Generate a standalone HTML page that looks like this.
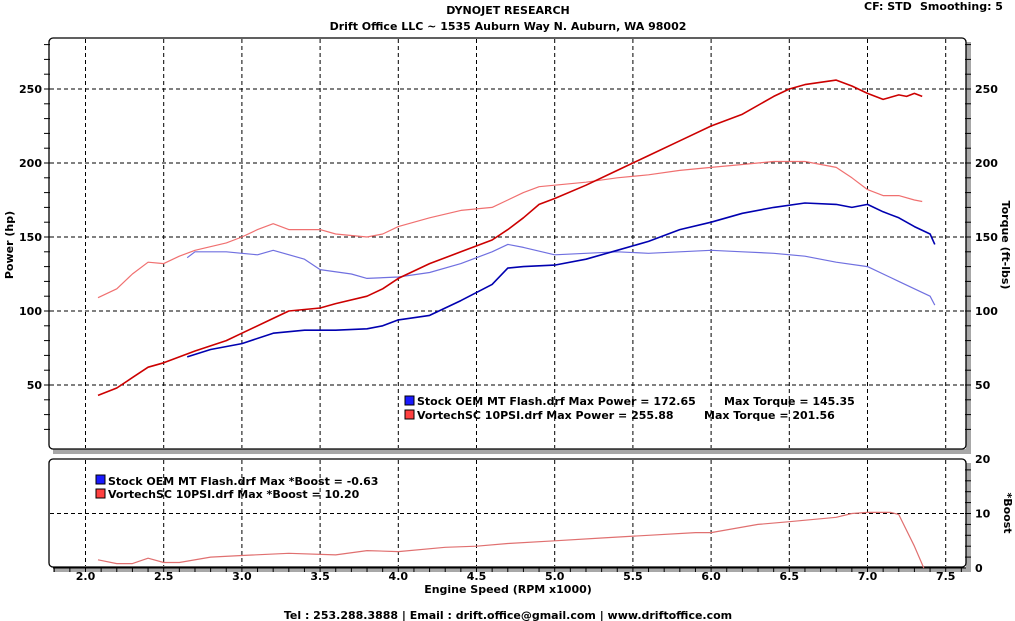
<!DOCTYPE html>
<html><head><meta charset="utf-8"><style>
html,body{margin:0;padding:0;background:#fff;}
svg{display:block;font-family:"DejaVu Sans","Liberation Sans",sans-serif;font-weight:bold;}
</style></head><body>
<svg id="s" width="1015" height="621" viewBox="0 0 1015 621" xmlns="http://www.w3.org/2000/svg">
<rect width="1015" height="621" fill="#fff"/>
<text x="508" y="14" font-size="11" text-anchor="middle">DYNOJET RESEARCH</text>
<text x="508" y="30" font-size="11" text-anchor="middle">Drift Office LLC ~ 1535 Auburn Way N. Auburn, WA 98002</text>
<text x="864" y="10" font-size="11">CF: STD</text><text x="920" y="10" font-size="11">Smoothing: 5</text>
<text x="508" y="619" font-size="11" text-anchor="middle">Tel : 253.288.3888 | Email : drift.office@gmail.com | www.driftoffice.com</text>
<text x="508" y="593" font-size="11" text-anchor="middle">Engine Speed (RPM x1000)</text>
<text transform="translate(13,245) rotate(-90)" font-size="11" text-anchor="middle">Power (hp)</text>
<text transform="translate(1002,245) rotate(90)" font-size="11" text-anchor="middle">Torque (ft-lbs)</text>
<text transform="translate(1004,513) rotate(90)" font-size="11" text-anchor="middle">*Boost</text>
<rect x="53" y="449" width="918" height="5" fill="#a8a8a8"/>
<rect x="966" y="42" width="5" height="412" fill="#a8a8a8"/>
<rect x="53" y="567" width="918" height="5" fill="#a8a8a8"/>
<rect x="966" y="463" width="5" height="109" fill="#a8a8a8"/>
<rect x="49" y="38" width="917" height="411" rx="4" fill="#fff" stroke="#000" stroke-width="1.3"/>
<rect x="49" y="459" width="917" height="108" rx="4" fill="#fff" stroke="#000" stroke-width="1.3"/>
<g id="g"></g>
<g font-size="11">
<rect x="405" y="396" width="9" height="9" fill="#1a1aff" stroke="#000"/>
<text x="417" y="405">Stock OEM MT Flash.drf Max Power = 172.65</text>
<text x="724" y="405">Max Torque = 145.35</text>
<rect x="405" y="410" width="9" height="9" fill="#ff4040" stroke="#000"/>
<text x="417" y="419">VortechSC 10PSI.drf Max Power = 255.88</text>
<text x="704" y="419">Max Torque = 201.56</text>
<rect x="96" y="475" width="9" height="9" fill="#1a1aff" stroke="#000"/>
<text x="108" y="485">Stock OEM MT Flash.drf Max *Boost = -0.63</text>
<rect x="96" y="489" width="9" height="9" fill="#ff4040" stroke="#000"/>
<text x="108" y="498">VortechSC 10PSI.drf Max *Boost = 10.20</text>
</g>
</svg>
<script>
var NS="http://www.w3.org/2000/svg",g=document.getElementById("g");
function el(t,a,txt){var e=document.createElementNS(NS,t);for(var k in a)e.setAttribute(k,a[k]);if(txt!==undefined)e.textContent=txt;g.appendChild(e);return e;}
function X(r){return 85.5+(r-2)*156.4;}
function Y(v){return 163-(v-200)*1.48;}
function B(v){return 568-v*5.45;}
var d="4,3";
for(var r=2;r<=7.51;r+=0.5){var x=X(r);
el("line",{x1:x,y1:39,x2:x,y2:448,stroke:"#000","stroke-dasharray":d});
el("line",{x1:x,y1:460,x2:x,y2:566,stroke:"#000","stroke-dasharray":d});
el("text",{x:x,y:580,"font-size":11,"text-anchor":"middle"},r.toFixed(1));}
for(var r=1.8;r<=7.65;r+=0.1){var x=X(r);el("line",{x1:x,y1:567,x2:x,y2:572,stroke:"#000"});}
el("line",{x1:53,y1:568,x2:966,y2:568,stroke:"#000"});
[50,100,150,200,250].forEach(function(v){var y=Y(v);
el("line",{x1:50,y1:y,x2:965,y2:y,stroke:"#000","stroke-dasharray":d});
el("text",{x:42,y:y+4,"font-size":11,"text-anchor":"end"},v);
el("text",{x:975,y:y+4,"font-size":11},v);});
for(var v=20;v<=280;v+=10){var y=Y(v);if(y<40||y>448)continue;
el("line",{x1:44,y1:y,x2:50,y2:y,stroke:"#000"});el("line",{x1:965,y1:y,x2:971,y2:y,stroke:"#000"});}
el("line",{x1:50,y1:B(10),x2:965,y2:B(10),stroke:"#000","stroke-dasharray":d});
[0,10,20].forEach(function(v){el("text",{x:975,y:B(v)+4,"font-size":11},v);});
for(var v=2;v<20;v+=2){el("line",{x1:965,y1:B(v),x2:971,y2:B(v),stroke:"#000"});}
function path(pts,f,c,w){var s="";pts.forEach(function(p,i){s+=(i?"L":"M")+X(p[0]).toFixed(1)+","+f(p[1]).toFixed(1);});
el("path",{d:s,fill:"none",stroke:c,"stroke-width":w,"stroke-linejoin":"round"});}
var rt=[[2.08,109],[2.2,115],[2.3,125],[2.4,133],[2.5,132],[2.6,137],[2.7,141],[2.9,146],[3.0,150],[3.1,155],[3.2,159],[3.3,155],[3.5,155],[3.6,152],[3.8,150],[3.9,152],[4.0,157],[4.2,163],[4.4,168],[4.6,170],[4.7,175],[4.8,180],[4.9,184],[5.0,185],[5.2,187],[5.4,190],[5.6,192],[5.8,195],[6.0,197],[6.2,199],[6.4,201],[6.6,201],[6.8,197],[6.9,190],[7.0,182],[7.1,178],[7.2,178],[7.3,175],[7.35,174]];
var bt=[[2.65,136],[2.7,140],[2.9,140],[3.1,138],[3.2,141],[3.4,135],[3.5,128],[3.7,125],[3.8,122],[4.0,123],[4.2,126],[4.4,132],[4.6,140],[4.7,145],[4.8,143],[5.0,138],[5.2,139],[5.4,140],[5.6,139],[5.8,140],[6.0,141],[6.2,140],[6.4,139],[6.6,137],[6.8,133],[7.0,130],[7.2,120],[7.3,115],[7.4,110],[7.43,104]];
var rp=[[2.08,43],[2.2,48],[2.3,55],[2.4,62],[2.5,65],[2.7,73],[2.9,80],[3.0,85],[3.2,95],[3.3,100],[3.5,102],[3.6,105],[3.8,110],[3.9,115],[4.0,122],[4.2,132],[4.4,140],[4.6,148],[4.7,155],[4.8,163],[4.9,172],[5.0,176],[5.2,185],[5.4,195],[5.6,205],[5.8,215],[6.0,225],[6.2,233],[6.4,245],[6.5,250],[6.6,253],[6.8,256],[6.9,252],[7.0,247],[7.1,243],[7.2,246],[7.25,245],[7.3,247],[7.35,245]];
var bp=[[2.65,69],[2.8,74],[3.0,78],[3.2,85],[3.4,87],[3.6,87],[3.8,88],[3.9,90],[4.0,94],[4.2,97],[4.4,107],[4.6,118],[4.7,129],[4.8,130],[5.0,131],[5.2,135],[5.4,141],[5.6,147],[5.8,155],[6.0,160],[6.2,166],[6.4,170],[6.6,173],[6.8,172],[6.9,170],[7.0,172],[7.1,167],[7.2,163],[7.3,157],[7.4,152],[7.43,145]];
var bo=[[2.08,1.5],[2.2,0.8],[2.3,0.8],[2.4,1.8],[2.5,1],[2.6,1],[2.8,2],[3.0,2.3],[3.3,2.7],[3.6,2.4],[3.8,3.2],[4.0,3.0],[4.3,3.8],[4.5,4],[4.7,4.5],[5.0,5],[5.3,5.5],[5.6,6],[5.9,6.5],[6.0,6.5],[6.3,8],[6.5,8.5],[6.8,9.3],[6.9,10],[7.0,10.2],[7.15,10.2],[7.2,9.8],[7.3,4],[7.36,0]];
path(rt,Y,"#f07070",1.2);path(bt,Y,"#7070e0",1.2);
path(rp,Y,"#cc0000",1.6);path(bp,Y,"#0000b0",1.6);
path(bo,B,"#e07070",1.2);
</script>
</body></html>
